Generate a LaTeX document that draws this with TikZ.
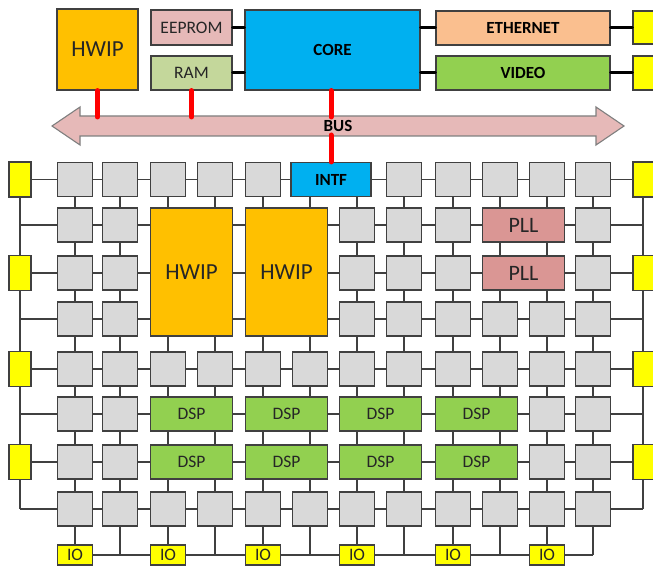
\documentclass[tikz,border=0pt]{standalone}
\usepackage{fontspec}
\setmainfont{Carlito}
\definecolor{cellgray}{HTML}{D9D9D9}
\definecolor{edgec}{HTML}{404040}
\definecolor{hwipc}{HTML}{FFC000}
\definecolor{eepromc}{HTML}{E6B9B8}
\definecolor{ramc}{HTML}{C4D79B}
\definecolor{corec}{HTML}{00B0F0}
\definecolor{ethc}{HTML}{FABF8F}
\definecolor{greenc}{HTML}{92D050}
\definecolor{yelc}{HTML}{FFFF00}
\definecolor{pllc}{HTML}{DA9694}
\definecolor{busc}{HTML}{E6B9B8}
\definecolor{busedge}{HTML}{7F7F7F}
\definecolor{txtc}{HTML}{262626}
\definecolor{redc}{HTML}{FF0000}
\begin{document}
\begin{tikzpicture}[x=1pt,y=-1pt,
  box/.style={draw=edgec, line width=1.1pt, inner sep=0pt, text=txtc,
              font=\fontsize{17.5}{18}\selectfont},
  cell/.style={box, fill=cellgray, minimum width=35pt, minimum height=34pt},
  bigtxt/.style={font=\fontsize{23}{24}\selectfont},
  boldtxt/.style={font=\fontsize{17}{18}\selectfont\bfseries, text=black},
  hwipbox/.style={box, fill=hwipc, bigtxt},
  dspbox/.style={box, fill=greenc, minimum width=82pt, minimum height=34pt},
  pllbox/.style={box, fill=pllc, minimum width=82pt, minimum height=34pt,
                 font=\fontsize{22}{23}\selectfont},
  yelbox/.style={box, fill=yelc, minimum width=22pt, minimum height=35pt},
  iobox/.style={box, fill=yelc, minimum width=35pt, minimum height=20pt},
  wire/.style={draw=edgec, line width=1.1pt},
  blk/.style={draw=black, line width=3pt, line cap=round},
  redl/.style={draw=redc, line width=5pt, line cap=round}]
\useasboundingbox (0,0) rectangle (653,567);

% grid coordinates
\foreach \c/\x in {1/75,2/120,3/168,4/215,5/263,6/310,7/357,8/404,9/453,10/500,11/547,12/593}
  \coordinate (X\c) at (\x,0);
\foreach \r/\y in {1/179.5,2/225,3/273,4/319,5/369,6/414,7/462,8/509}{
  \coordinate (Y\r) at (0,\y);
  \coordinate (L\r) at (20,\y);
  \coordinate (R\r) at (643,\y);
}
\coordinate (BOT) at (0,555);

% grid wires (behind the blocks)
\foreach \r in {1,...,8} \draw[wire] (L\r) -- (R\r);
\draw[wire] (L1) -- (L8);
\draw[wire] (R1) -- (R8);
\foreach \c in {1,...,12} \draw[wire] (X\c |- Y1) -- (X\c |- BOT);
\draw[wire] (X1 |- BOT) -- (X12 |- BOT);

% grid cells
\foreach \r/\cl in {1/{1,2,3,4,5,8,9,10,11,12},2/{1,2,7,8,9,12},3/{1,2,7,8,9,12},
                    4/{1,2,7,8,9,10,11,12},5/{1,2,3,4,5,6,7,8,9,10,11,12},
                    6/{1,2,11,12},7/{1,2,11,12},8/{1,2,3,4,5,6,7,8,9,10,11,12}}{
  \foreach \c in \cl { \node[cell] (c\r-\c) at (X\c |- Y\r) {}; }
}

% big blocks in the grid
\node[box, fill=corec, boldtxt, minimum width=80pt, minimum height=34pt] (intf) at (331,179.5) {INTF};
\node[hwipbox, minimum width=82pt, minimum height=128pt] (hw1) at (191.5,272) {HWIP};
\node[hwipbox, minimum width=82pt, minimum height=128pt] (hw2) at (286.5,272) {HWIP};
\node[pllbox] (pll1) at (523.5,225) {PLL};
\node[pllbox] (pll2) at (523.5,273) {PLL};
\foreach \r in {6,7}{
  \node[dspbox] (dspa\r) at (191.5,0 |- Y\r) {DSP};
  \node[dspbox] (dspb\r) at (286.5,0 |- Y\r) {DSP};
  \node[dspbox] (dspc\r) at (380.5,0 |- Y\r) {DSP};
  \node[dspbox] (dspd\r) at (476.5,0 |- Y\r) {DSP};
}

% side yellow ports
\foreach \r in {1,3,5,7}{
  \node[yelbox] (yl\r) at (L\r) {};
  \node[yelbox] (yr\r) at (644,0 |- Y\r) {};
}
% bottom IO
\foreach \c in {1,3,5,7,9,11} \node[iobox] (io\c) at (X\c |- BOT) {IO};

% top section
\node[hwipbox, minimum width=81pt, minimum height=81pt] (hwt) at (97.5,49.5) {HWIP};
\node[box, fill=eepromc, minimum width=81pt, minimum height=35pt] (eeprom) at (191.5,27.5) {EEPROM};
\node[box, fill=ramc, minimum width=81pt, minimum height=34pt] (ram) at (191.5,73) {RAM};
\node[box, fill=corec, boldtxt, minimum width=175pt, minimum height=80pt] (core) at (332.5,50) {CORE};
\node[box, fill=ethc, boldtxt, minimum width=174pt, minimum height=34pt] (eth) at (523,28) {ETHERNET};
\node[box, fill=greenc, boldtxt, minimum width=174pt, minimum height=34pt] (video) at (523,73) {VIDEO};
\node[box, fill=yelc, minimum width=22pt, minimum height=33pt] (ty1) at (644,27.5) {};
\node[box, fill=yelc, minimum width=22pt, minimum height=34pt] (ty2) at (644,73) {};

\draw[blk] (eeprom.east) -- (eeprom.east -| core.west);
\draw[blk] (ram.east) -- (ram.east -| core.west);
\draw[blk] (core.east |- eth.west) -- (eth.west);
\draw[blk] (core.east |- video.west) -- (video.west);
\draw[blk] (eth.east) -- (eth.east -| ty1.west);
\draw[blk] (video.east) -- (video.east -| ty2.west);

% bus
\draw[fill=busc, draw=busedge, line width=1.1pt]
  (52,126) -- (80,107) -- (80,116) -- (596,116) -- (596,107) -- (624,126)
  -- (596,145) -- (596,136) -- (80,136) -- (80,145) -- cycle;
\node[boldtxt, inner sep=0pt] (bus) at (338,126) {BUS};
\coordinate (bt) at (0,117);
\coordinate (bb) at (0,135);

\draw[redl] (hwt.south) -- (hwt.south |- bt);
\draw[redl] (ram.south) -- (ram.south |- bt);
\draw[redl] (intf.north |- core.south) -- (intf.north |- bt);
\draw[redl] (intf.north |- bb) -- (intf.north);
\end{tikzpicture}
\end{document}
